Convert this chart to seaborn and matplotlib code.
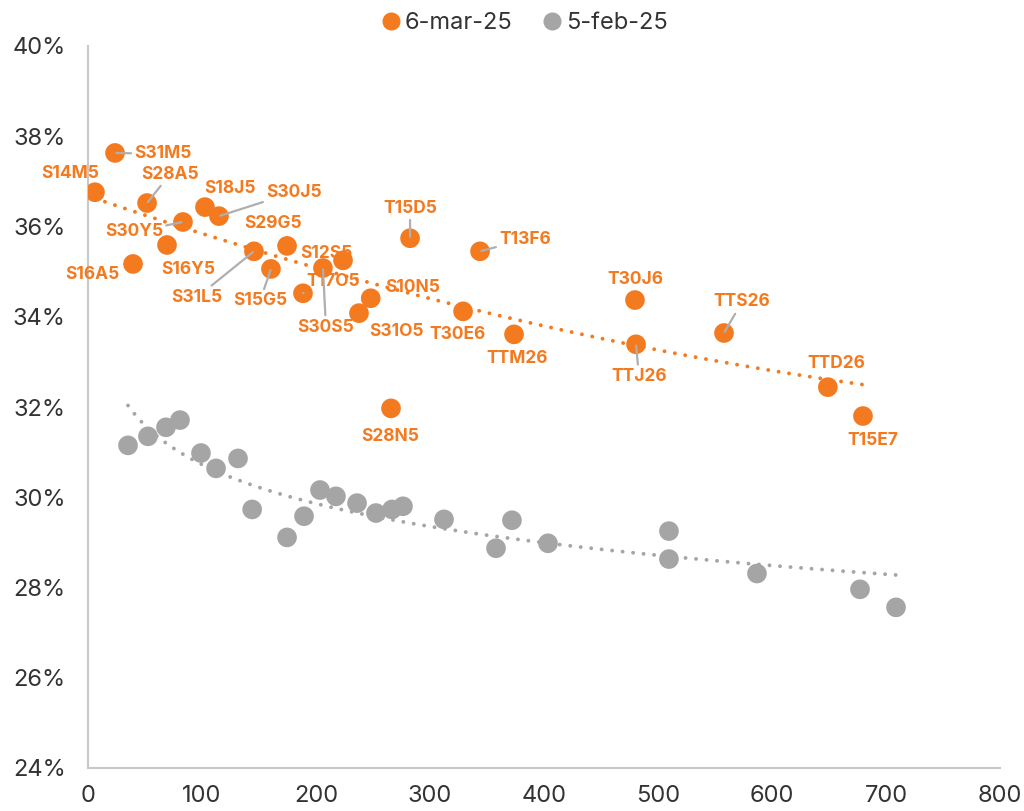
import numpy as np
import pandas as pd
import matplotlib
matplotlib.use("Agg")
import matplotlib.pyplot as plt
import seaborn as sns
from matplotlib.ticker import FuncFormatter

# ---------------- data ----------------
mar_labels = ["S14M5", "S31M5", "S28A5", "S30Y5", "S16Y5", "S16A5", "S18J5", "S30J5",
              "S31L5", "S15G5", "S29G5", "S12S5", "T17O5", "S30S5", "S10N5", "S31O5",
              "T15D5", "T13F6", "T30E6", "TTM26", "T30J6", "TTJ26", "TTS26", "TTD26",
              "T15E7", "S28N5"]
mar_x = [6.1, 23.7, 51.8, 83.3, 69.3, 39.5, 102.6, 114.9,
         145.6, 160.5, 174.6, 223.7, 188.6, 206.1, 248.0, 237.7,
         282.5, 343.9, 329.0, 373.7, 479.8, 480.7, 557.9, 649.0,
         679.8, 265.8]
mar_y = [36.76, 37.63, 36.52, 36.10, 35.59, 35.17, 36.43, 36.23,
         35.45, 35.06, 35.57, 35.25, 34.52, 35.08, 34.41, 34.08,
         35.74, 35.45, 34.12, 33.61, 34.37, 33.39, 33.64, 32.44,
         31.80, 31.97]

feb_x = [35.1, 52.6, 68.4, 80.7, 99.1, 112.3, 131.6, 144.0, 174.6, 189.5,
         203.5, 217.5, 236.0, 252.6, 266.7, 276.3, 312.3, 357.9, 371.9, 403.5,
         509.6, 509.6, 586.8, 677.2, 708.8]
feb_y = [31.15, 31.35, 31.55, 31.71, 30.98, 30.64, 30.86, 29.73, 29.11, 29.58,
         30.16, 30.02, 29.87, 29.65, 29.73, 29.80, 29.51, 28.87, 29.49, 28.98,
         29.25, 28.63, 28.31, 27.96, 27.56]

series_names = ["6-mar-25", "5-feb-25"]
x_ticks = [0, 100, 200, 300, 400, 500, 600, 700, 800]
y_ticks = [24, 26, 28, 30, 32, 34, 36, 38, 40]

# ---------------- layout / style ----------------
# label offsets in pixels (dx, dy; dy up) and whether a leader line is drawn
label_offsets = {
    "S14M5": (-25, 19, False), "S31M5": (48, -1, True), "S28A5": (23, 29, True),
    "S30Y5": (-49, -10, True), "S16Y5": (21, -24, False), "S16A5": (-41, -11, False),
    "S18J5": (25, 19, False), "S30J5": (75, 24, True), "S31L5": (-57, -46, True),
    "S15G5": (-11, -32, True), "S29G5": (-14, 22, False), "S12S5": (-17, 7, False),
    "T17O5": (30, 12, True), "S30S5": (3, -59, True), "S10N5": (42, 11, False),
    "S31O5": (38, -18, False), "T15D5": (0, 30, True), "T13F6": (45, 12, True),
    "T30E6": (-6, -23, False), "TTM26": (3, -24, False), "T30J6": (0, 21, False),
    "TTJ26": (3, -32, True), "TTS26": (18, 31, True), "TTD26": (8, 24, False),
    "T15E7": (10, -24, False), "S28N5": (-1, -28, False),
}

ORANGE = "#F47A20"
GRAY = "#A5A5A5"
AXIS_GRAY = "#C8C8C8"
TEXT = "#333333"

sns.set_theme(style="white")
plt.rcParams["font.family"] = ["Inter", "DejaVu Sans"]

df = pd.DataFrame({
    "x": mar_x + feb_x,
    "y": mar_y + feb_y,
    "serie": [series_names[0]] * len(mar_x) + [series_names[1]] * len(feb_x),
})

fig = plt.figure(figsize=(10.24, 8.11), dpi=100)
ax = fig.add_axes([88 / 1024, 1 - 768 / 811, 912 / 1024, 722 / 811])

# trend lines (fitted to the data)
xm = np.array(mar_x); ym = np.array(mar_y)
cm = np.polyfit(xm, ym, 2)
tx = np.linspace(xm.min(), xm.max(), 200)
ax.plot(tx, np.polyval(cm, tx), color=ORANGE, lw=2.8, linestyle=(0, (0.01, 2.7)),
        dash_capstyle="round", zorder=2)
xf = np.array(feb_x); yf = np.array(feb_y)
cf = np.polyfit(np.log(xf), yf, 1)
tx2 = np.linspace(xf.min(), xf.max(), 200)
ax.plot(tx2, np.polyval(cf, np.log(tx2)), color=GRAY, lw=2.8, linestyle=(0, (0.01, 2.7)),
        dash_capstyle="round", zorder=2)

sns.scatterplot(data=df, x="x", y="y", hue="serie", hue_order=series_names[::-1],
                palette={series_names[0]: ORANGE, series_names[1]: GRAY},
                s=200, edgecolor="none", linewidth=0, ax=ax, legend=False, zorder=3)

for lab, x, y in zip(mar_labels, mar_x, mar_y):
    dx, dy, leader = label_offsets[lab]
    kw = {}
    if leader:
        kw["arrowprops"] = dict(arrowstyle="-", color="#AFAFAF", lw=1.6,
                                shrinkA=0, shrinkB=1)
    ax.annotate(lab, (x, y), xytext=(dx, dy), textcoords="offset pixels",
                ha="center", va="center", color=ORANGE, fontsize=12.5,
                fontweight="bold", zorder=4, **kw)

ax.set_xlim(0, 800)
ax.set_ylim(24, 40)
ax.set_xticks(x_ticks)
ax.set_yticks(y_ticks)
ax.yaxis.set_major_formatter(FuncFormatter(lambda v, p: f"{v:.0f}%"))
ax.set_xlabel("")
ax.set_ylabel("")
ax.tick_params(axis="both", length=0, labelsize=17, colors=TEXT)
ax.tick_params(axis="x", pad=12)
ax.tick_params(axis="y", pad=16)
for s in ["top", "right"]:
    ax.spines[s].set_visible(False)
for s in ["left", "bottom"]:
    ax.spines[s].set_color(AXIS_GRAY)
    ax.spines[s].set_linewidth(1.5)

handles = [plt.Line2D([], [], marker="o", ls="", color=ORANGE, markersize=12),
           plt.Line2D([], [], marker="o", ls="", color=GRAY, markersize=12)]
fig.legend(handles, series_names, loc="center", bbox_to_anchor=(525 / 1024, 1 - 23 / 811),
           ncol=2, frameon=False, fontsize=17, handlelength=0.7, handletextpad=0.25,
           columnspacing=1.3, labelcolor=TEXT)

fig.savefig("out.png", dpi=100)
